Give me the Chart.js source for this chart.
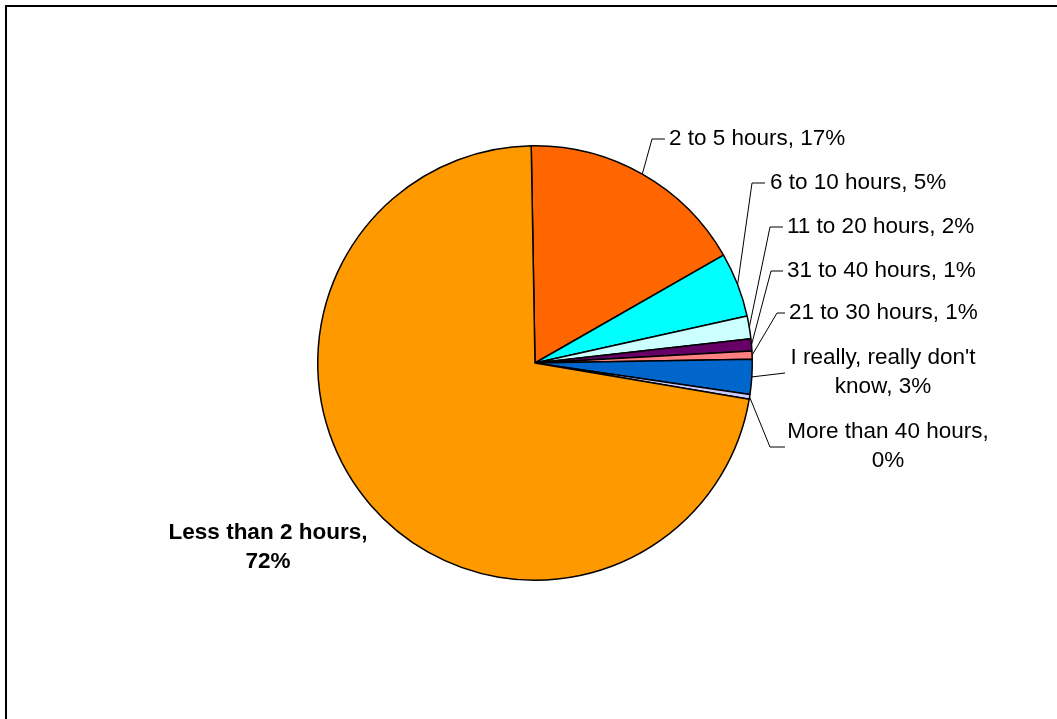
<!DOCTYPE html>
<html lang="en">
<head>
    <meta charset="UTF-8">
    <title>Hours pie</title>
    <script src="https://cdn.jsdelivr.net/npm/chart.js"></script>
    <style>
        html, body { margin: 0; padding: 0; background: #fff; overflow: hidden; }
        #wrap { position: relative; width: 1057px; height: 719px; }
        #frame { position: absolute; left: 5px; top: 5px; width: 1200px; height: 900px; border: 2px solid #000; }
    </style>
</head>
<body>
    <div id="wrap">
        <div id="frame"></div>
        <canvas id="myChart" width="1057" height="719"></canvas>
    </div>

    <script>
        // slice data, clockwise from 12 o'clock
        const categories = ['2 to 5 hours', '6 to 10 hours', '11 to 20 hours', '31 to 40 hours',
                            '21 to 30 hours', "I really, really don't know", 'More than 40 hours', 'Less than 2 hours'];
        const shares = [17.0, 4.8, 1.7, 0.9, 0.6, 2.6, 0.35, 72.05];
        const sliceColors = ['#FF6600', '#00FFFF', '#CCFFFF', '#660066', '#FF8080', '#0066CC', '#CCCCFF', '#FF9900'];

        // where each data label goes (elbow of leader line, text anchor)
        const labelLayout = [
            { elbow: [652, 139], end: 665, x: 669, y: 139, align: 'left' },
            { elbow: [752, 183], end: 765, x: 770, y: 183, align: 'left' },
            { elbow: [770, 227], end: 783, x: 787, y: 227, align: 'left' },
            { elbow: [771, 271], end: 783, x: 787, y: 271, align: 'left' },
            { elbow: [777, 313], end: 785, x: 789, y: 313, align: 'left' },
            { elbow: [785, 373], end: 785, x: 883, y: 358, align: 'center', wrap: 225 },
            { elbow: [770, 447], end: 785, x: 888, y: 432, align: 'center', wrap: 225 },
            { x: 268, y: 533, align: 'center', wrap: 225, bold: true }
        ];

        function wrapText(ctx, text, maxW) {
            if (!maxW) return [text];
            const words = text.split(' ');
            const lines = [];
            let cur = '';
            words.forEach(function(w) {
                const test = cur ? cur + ' ' + w : w;
                if (cur && ctx.measureText(test).width > maxW) {
                    lines.push(cur);
                    cur = w;
                } else {
                    cur = test;
                }
            });
            if (cur) lines.push(cur);
            return lines;
        }

        const pieLabels = {
            id: 'pieLabels',
            afterDraw(chart) {
                const ctx = chart.ctx;
                const arcs = chart.getDatasetMeta(0).data;
                const total = shares.reduce((a, b) => a + b, 0);
                ctx.save();
                arcs.forEach(function(arc, i) {
                    const lay = labelLayout[i];
                    const mid = (arc.startAngle + arc.endAngle) / 2;
                    const ex = arc.x + Math.cos(mid) * arc.outerRadius;
                    const ey = arc.y + Math.sin(mid) * arc.outerRadius;

                    if (lay.elbow) {
                        ctx.strokeStyle = '#000';
                        ctx.lineWidth = 1;
                        ctx.beginPath();
                        ctx.moveTo(ex, ey);
                        ctx.lineTo(lay.elbow[0], lay.elbow[1]);
                        ctx.lineTo(lay.end, lay.elbow[1]);
                        ctx.stroke();
                    }

                    const pct = Math.round(shares[i] / total * 100);
                    const text = categories[i] + ', ' + pct + '%';
                    ctx.font = (lay.bold ? 'bold ' : '') + '22.5px "Liberation Sans", Arial, sans-serif';
                    ctx.fillStyle = '#000';
                    ctx.textAlign = lay.align;
                    ctx.textBaseline = 'middle';
                    const lines = wrapText(ctx, text, lay.wrap);
                    lines.forEach(function(line, k) {
                        ctx.fillText(line, lay.x, lay.y + k * 29);
                    });
                });
                ctx.restore();
            }
        };

        const ctx = document.getElementById('myChart').getContext('2d');
        const chart = new Chart(ctx, {
            type: 'pie',
            data: {
                labels: categories,
                datasets: [{
                    data: shares,
                    backgroundColor: sliceColors,
                    borderColor: '#000',
                    borderWidth: 1.5
                }]
            },
            options: {
                responsive: false,
                animation: false,
                rotation: -1,
                layout: { padding: { left: 13, right: 0, top: 145, bottom: 138 } },
                plugins: {
                    legend: { display: false },
                    tooltip: { enabled: false }
                }
            },
            plugins: [pieLabels]
        });
    </script>
</body>
</html>
